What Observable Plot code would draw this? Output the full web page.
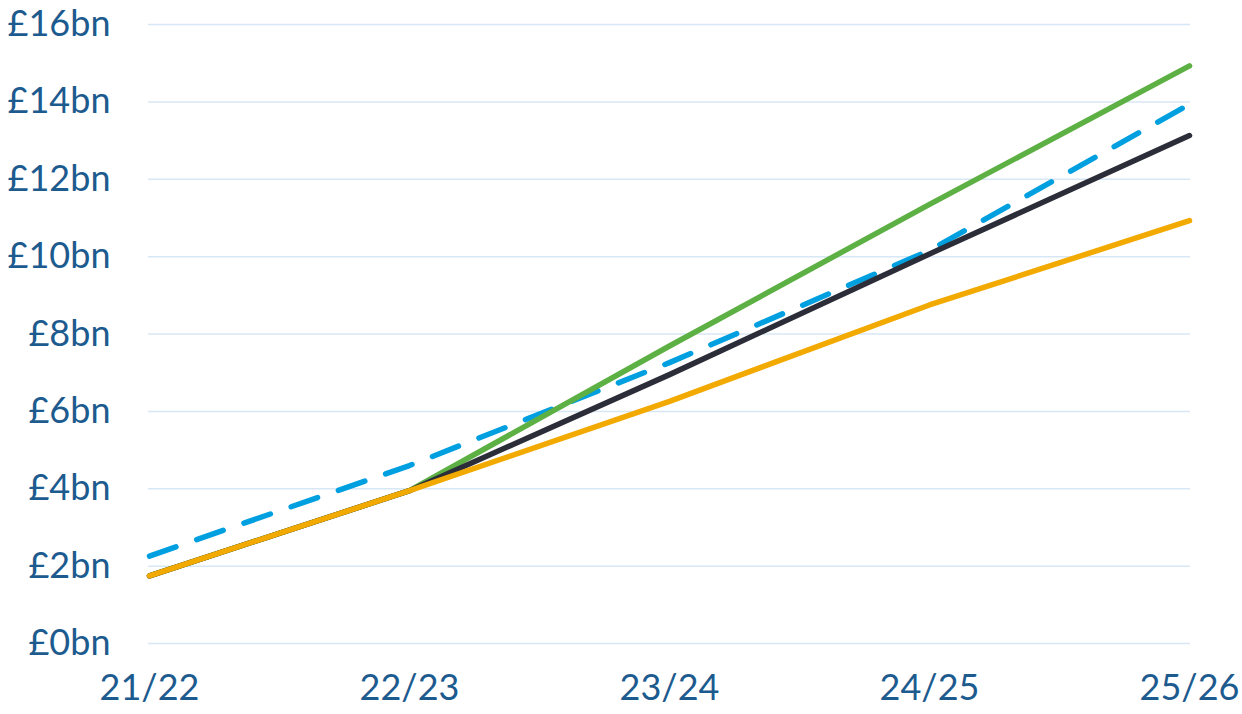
<!DOCTYPE html>
<html>
<head>
<meta charset="utf-8">
<script src="https://cdn.jsdelivr.net/npm/d3@7"></script>
<script src="https://cdn.jsdelivr.net/npm/@observablehq/plot@0.6"></script>
<style>
  html, body { margin: 0; padding: 0; background: #fff; }
  #chart svg { display: block; overflow: visible; }
</style>
</head>
<body>
<div id="chart"></div>
<script>
// Financial years on the x axis
const years = ["21/22", "22/23", "23/24", "24/25", "25/26"];

// Cost projections, £bn
const greenSeries = [1.75, 3.95, 7.69, 11.35, 14.93];
const blackSeries = [1.75, 3.95, 6.95, 10.07, 13.13];
const orangeSeries = [1.75, 3.95, 6.26, 8.75, 10.93];
const blueDashed = [2.26, 4.6, 7.26, 10.16, 13.94];

const yTicks = [0, 2, 4, 6, 8, 10, 12, 14, 16];

const toRows = (values) => years.map((year, i) => ({year, value: values[i]}));

const textColor = "#1d5b8f";

const lineOpts = {x: "year", y: "value", strokeWidth: 5.5, strokeLinecap: "round", strokeLinejoin: "round"};

const chart = Plot.plot({
  width: 1242,
  height: 714,
  marginLeft: 148,
  marginRight: 52,
  marginTop: 24,
  marginBottom: 71,
  style: {fontFamily: "Lato, sans-serif", fontSize: "36px", color: textColor, background: "#fff"},
  x: {type: "point", domain: years, padding: 0, label: null},
  y: {domain: [0, 16], label: null},
  marks: [
    Plot.gridY(yTicks, {stroke: "#d8e7f5", strokeOpacity: 1, strokeWidth: 1.5}),
    Plot.axisY(yTicks, {tickSize: 0, tickPadding: 38, tickFormat: d => `£${d}bn`, fill: textColor, fontSize: 36}),
    Plot.axisX(years, {tickSize: 0, tickPadding: 31, fill: textColor, fontSize: 36}),
    Plot.line(toRows(blueDashed), {...lineOpts, stroke: "#00a0e0", strokeDasharray: "28,22"}),
    Plot.line(toRows(greenSeries), {...lineOpts, stroke: "#5db043"}),
    Plot.line(toRows(blackSeries), {...lineOpts, stroke: "#2b2d38"}),
    Plot.line(toRows(orangeSeries), {...lineOpts, stroke: "#f2a900"})
  ]
});

document.getElementById("chart").append(chart);
</script>
</body>
</html>
